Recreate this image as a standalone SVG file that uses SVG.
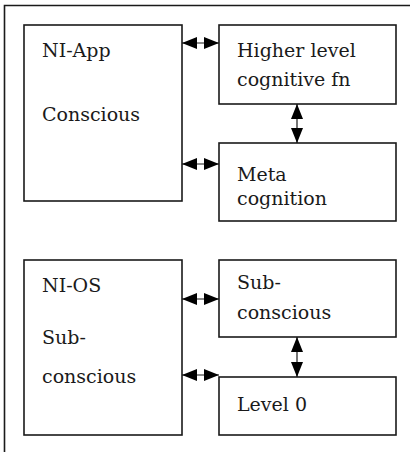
<svg xmlns="http://www.w3.org/2000/svg" width="410" height="452" viewBox="0 0 410 452">
<style>
.box{fill:#fff;stroke:#1a1a1a;stroke-width:1.6}
.t{font-family:"DejaVu Serif","Liberation Serif",serif;font-size:19px;fill:#1a1a1a}
.c{stroke:#1a1a1a;stroke-width:1.2;fill:none}
</style>
<defs>
<marker id="ah" markerUnits="userSpaceOnUse" markerWidth="16" markerHeight="14" refX="15" refY="7" orient="auto-start-reverse">
<path d="M0,1 L15,7 L0,13 Z" fill="#000"/>
</marker>
</defs>
<rect width="410" height="452" fill="#fff"/>
<path d="M4.5,452 V5.5 H410" fill="none" stroke="#1a1a1a" stroke-width="1.6"/>
<g id="ni-app"><rect class="box" x="24" y="25" width="158" height="176"/>
<text class="t" x="42" y="57">NI-App</text><text class="t" x="42" y="121">Conscious</text></g>
<g id="higher"><rect class="box" x="219" y="25" width="177" height="79"/>
<text class="t" x="237" y="57">Higher level</text><text class="t" x="237" y="86">cognitive fn</text></g>
<g id="meta"><rect class="box" x="219" y="143" width="177" height="78"/>
<text class="t" x="237" y="181">Meta</text><text class="t" x="237" y="205">cognition</text></g>
<g id="ni-os"><rect class="box" x="24" y="260" width="158" height="175"/>
<text class="t" x="42" y="292">NI-OS</text><text class="t" x="42" y="344">Sub-</text><text class="t" x="42" y="383">conscious</text></g>
<g id="subconscious"><rect class="box" x="219" y="260" width="177" height="77"/>
<text class="t" x="237" y="289">Sub-</text><text class="t" x="237" y="319">conscious</text></g>
<g id="level0"><rect class="box" x="219" y="377" width="177" height="58"/>
<text class="t" x="237" y="411">Level 0</text></g>
<g id="connectors">
<line class="c" x1="182" y1="43" x2="219" y2="43" marker-start="url(#ah)" marker-end="url(#ah)"/>
<line class="c" x1="182" y1="164" x2="219" y2="164" marker-start="url(#ah)" marker-end="url(#ah)"/>
<line class="c" x1="297" y1="104" x2="297" y2="143" marker-start="url(#ah)" marker-end="url(#ah)"/>
<line class="c" x1="182" y1="299" x2="219" y2="299" marker-start="url(#ah)" marker-end="url(#ah)"/>
<line class="c" x1="182" y1="375" x2="219" y2="375" marker-start="url(#ah)" marker-end="url(#ah)"/>
<line class="c" x1="297" y1="337" x2="297" y2="377" marker-start="url(#ah)" marker-end="url(#ah)"/>
</g>
</svg>
